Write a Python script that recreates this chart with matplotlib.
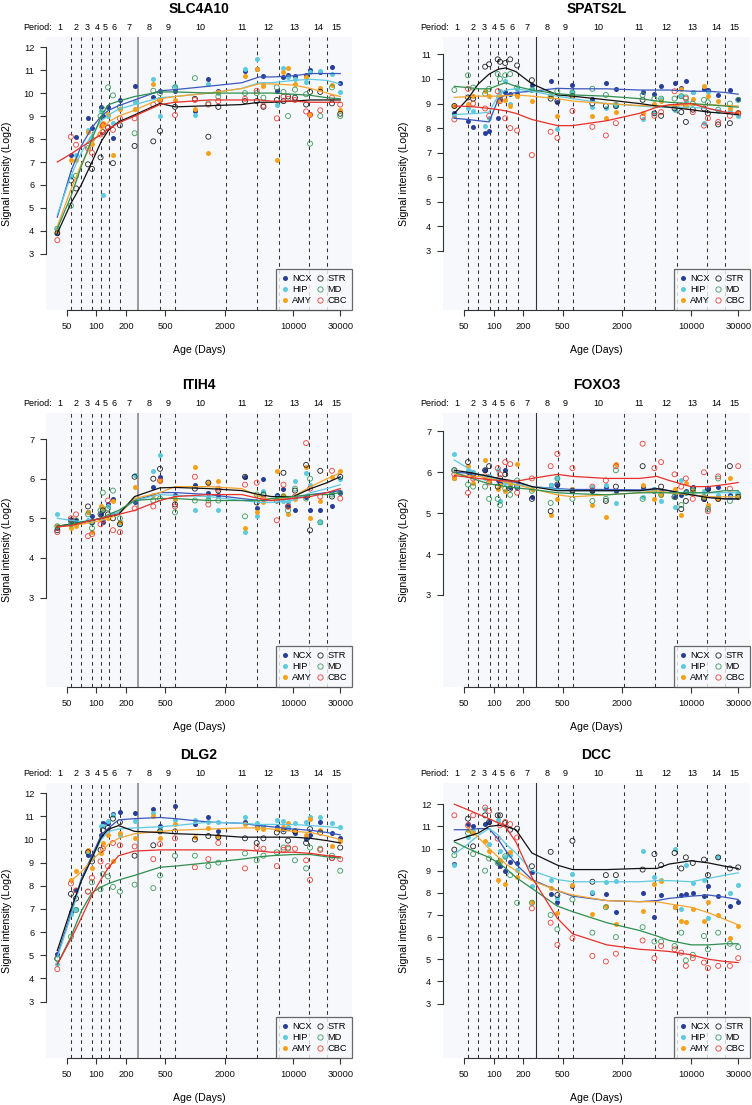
import numpy as np
import matplotlib
matplotlib.use("Agg")
import matplotlib.pyplot as plt
from matplotlib.lines import Line2D

plt.rcParams['font.family'] = ['Liberation Sans', 'DejaVu Sans']
nan = np.nan

# sample ages (days post conception) and ages at which the smooth fits are drawn
AGES = [40, 55, 62, 82, 90, 110, 116, 131, 147, 173, 244, 378, 442, 628, 1000, 1370, 1730,
        3230, 4250, 4970, 6800, 7950, 8850, 10400, 13500, 14800, 18800, 24700, 30000]
FIT_AGES = [40, 55, 70, 90, 112, 133, 168, 244, 442, 630, 1400, 3000, 4500, 6000, 10000,
            15000, 22000, 30000]

# period boundaries (days), birth and the period label anchors
PERIOD_BOUNDS = [55, 70, 91, 112, 133, 175, 446, 633, 2080, 4280, 7190, 14500, 21900]
BIRTH = 267
PERIOD_EDGES = [32, 55, 70, 91, 112, 133, 175, 267, 446, 633, 2080, 4280, 7190, 14500, 21900, 35000]
PERIODS = [str(i) for i in range(1, 16)]

XTICKS = [50, 100, 200, 500, 2000, 10000, 30000]
REGIONS = ['NCX', 'HIP', 'AMY', 'STR', 'MD', 'CBC']

# ---------------- SLC4A10 ----------------
SLC4A10_NCX = [3.9, 7.3, 8.1, 8.9, 8.5, 9.4, 9.0, 9.4, 8.05, 9.7, 10.3, 9.85, 10.1, 10.1, 9.2, 10.6, 10.1, 10.95, 11.05, 10.75, 10.1, 10.7, 10.8, 10.75, 10.8, 11.0, 10.9, 11.15, 10.45]
SLC4A10_HIP = [4.1, 6.4, 7.3, 8.4, 8.0, 9.2, 5.55, 9.0, 8.7, 9.3, 9.6, 10.6, 9.0, 10.3, 9.05, 10.4, 10.0, 11.05, 11.5, 10.4, 9.5, 11.1, 10.7, 10.6, 10.5, 10.9, 10.95, 10.85, 10.05]
SLC4A10_AMY = [4.0, 7.1, 7.1, 8.3, 7.8, 8.55, 8.7, 9.1, 7.3, 9.3, 9.3, 10.4, 9.7, 9.7, 9.3, 7.4, 10.05, 10.75, 11.05, 10.3, 7.1, 10.9, 11.1, 10.4, 10.7, 9.1, 10.2, 10.35, 9.25]
SLC4A10_STR = [3.9, 6.2, 5.85, 6.9, 6.7, 7.2, 8.3, 8.5, 6.95, 8.6, 7.7, 7.9, 8.35, 9.4, 9.75, 8.1, 9.4, 9.65, 9.65, 9.4, 9.7, 9.65, 9.85, 9.8, 9.5, 10.05, 10.05, 9.55, 9.1]
SLC4A10_MD = [4.1, 5.1, 6.4, 7.7, 8.0, 9.0, 9.3, 10.25, 9.9, 9.4, 8.25, 10.1, 10.0, 10.25, 10.65, 9.55, 9.85, 10.0, 10.0, 9.8, 10.25, 10.05, 9.0, 10.15, 9.95, 7.8, 9.0, 10.25, 9.0]
SLC4A10_CBC = [3.6, 8.1, 7.75, 7.6, 7.4, 8.2, 8.6, 8.5, 8.4, 8.9, 8.9, 9.5, 9.7, 9.05, 9.7, 9.5, 9.65, 9.75, 10.1, 9.45, 8.9, 9.85, 9.75, 9.7, 9.2, 9.05, 9.25, 9.8, 9.5]
SLC4A10_NCX_FIT = [4.6, 6.6, 7.7, 8.5, 9.0, 9.25, 9.45, 9.7, 10.1, 10.15, 10.3, 10.45, 10.7, 10.7, 10.75, 10.85, 10.85, 10.85]
SLC4A10_HIP_FIT = [4.7, 6.4, 7.4, 8.2, 8.8, 9.05, 9.3, 9.5, 9.8, 9.85, 10.0, 10.2, 10.45, 10.45, 10.55, 10.6, 10.55, 10.4]
SLC4A10_AMY_FIT = [4.2, 5.8, 6.9, 7.8, 8.4, 8.75, 9.0, 9.25, 9.75, 9.85, 10.0, 10.2, 10.4, 10.4, 10.35, 10.2, 10.0, 9.85]
SLC4A10_STR_FIT = [3.9, 5.2, 6.0, 7.0, 7.9, 8.4, 8.75, 9.05, 9.55, 9.4, 9.45, 9.5, 9.6, 9.6, 9.65, 9.7, 9.7, 9.7]
SLC4A10_MD_FIT = [4.1, 5.5, 6.8, 8.0, 9.0, 9.5, 9.65, 9.85, 10.05, 10.05, 10.0, 10.0, 10.0, 10.0, 9.95, 9.9, 9.8, 9.75]
SLC4A10_CBC_FIT = [7.0, 7.35, 7.65, 7.95, 8.2, 8.45, 8.7, 9.0, 9.5, 9.6, 9.7, 9.7, 9.7, 9.65, 9.65, 9.6, 9.6, 9.6]

# ---------------- SPATS2L ----------------
SPATS2L_NCX = [8.6, 8.3, 8.05, 7.8, 7.9, 8.4, 9.2, 9.45, 9.4, 9.4, 9.75, 9.9, 9.05, 9.75, 9.2, 9.85, 9.6, 9.45, 9.4, 9.7, 9.85, 9.65, 9.9, 9.45, 9.6, 9.55, 9.35, 9.55, 9.2]
SPATS2L_HIP = [8.5, 8.8, 8.7, 8.1, 8.4, 9.3, 9.5, 9.9, 9.0, 9.6, 9.6, 9.3, 7.95, 9.45, 8.85, 8.8, 8.9, 8.35, 8.6, 9.2, 8.75, 9.3, 9.1, 9.45, 8.2, 9.45, 8.7, 8.7, 8.5]
SPATS2L_AMY = [8.9, 9.0, 9.3, 9.5, 9.3, 9.1, 9.3, 9.15, 8.9, 9.3, 9.1, 9.3, 8.5, 9.3, 8.5, 8.4, 8.65, 8.6, 9.0, 9.1, 8.9, 9.6, 8.9, 9.2, 9.7, 9.3, 9.1, 8.8, 8.65]
SPATS2L_STR = [8.9, 9.25, 9.2, 10.5, 10.6, 10.8, 10.7, 10.65, 10.8, 10.55, 9.95, 9.2, 9.1, 9.3, 9.0, 8.9, 8.9, 9.15, 8.6, 8.5, 8.8, 8.65, 8.25, 8.75, 8.8, 8.6, 8.15, 8.2, 8.6]
SPATS2L_MD = [9.55, 10.15, 9.65, 9.4, 9.6, 10.2, 10.0, 10.15, 10.2, 9.65, 9.55, 9.3, 9.5, 9.45, 9.6, 9.35, 8.95, 9.35, 9.2, 9.2, 9.2, 9.3, 9.25, 9.0, 9.15, 9.05, 8.75, 9.0, 9.15]
SPATS2L_CBC = [8.35, 9.6, 9.0, 8.8, 8.5, 9.5, 9.1, 8.4, 8.0, 7.9, 6.9, 7.85, 7.6, 8.7, 8.05, 7.7, 8.2, 8.45, 8.5, 8.65, 9.5, 8.9, 9.2, 8.65, 8.1, 8.4, 8.25, 8.5, 8.6]
SPATS2L_NCX_FIT = [8.4, 8.35, 8.3, 8.25, 9.2, 9.35, 9.45, 9.5, 9.62, 9.6, 9.6, 9.55, 9.55, 9.55, 9.5, 9.5, 9.45, 9.38]
SPATS2L_HIP_FIT = [8.55, 8.58, 8.6, 8.65, 9.35, 9.55, 9.6, 9.5, 9.3, 9.2, 9.0, 8.9, 8.85, 8.85, 8.85, 8.8, 8.65, 8.5]
SPATS2L_AMY_FIT = [9.25, 9.28, 9.3, 9.3, 9.3, 9.32, 9.35, 9.3, 9.2, 9.1, 9.0, 8.92, 8.9, 8.92, 8.95, 8.95, 8.92, 8.9]
SPATS2L_STR_FIT = [8.6, 9.2, 9.8, 10.2, 10.4, 10.45, 10.3, 9.8, 9.35, 9.3, 9.15, 9.0, 8.9, 8.85, 8.75, 8.65, 8.6, 8.55]
SPATS2L_MD_FIT = [9.7, 9.65, 9.6, 9.6, 9.75, 9.85, 9.7, 9.55, 9.4, 9.35, 9.3, 9.2, 9.1, 9.05, 9.0, 8.95, 8.9, 8.85]
SPATS2L_CBC_FIT = [8.9, 8.88, 8.85, 8.8, 8.75, 8.7, 8.6, 8.35, 8.1, 8.1, 8.3, 8.6, 8.85, 8.95, 9.0, 8.8, 8.65, 8.6]

# ---------------- ITIH4 ----------------
ITIH4_NCX = [4.75, 4.95, 4.95, 5.15, 5.05, 5.1, 4.9, 5.35, 5.5, 4.9, 5.4, 5.8, 6.05, 5.6, 5.85, 5.65, 5.6, 6.05, 5.25, 6.0, 5.6, 5.75, 5.3, 5.2, 5.55, 5.2, 5.2, 5.3, 5.65]
ITIH4_HIP = [5.1, 4.85, 4.85, 4.95, 4.9, 5.0, 5.2, 5.3, 5.1, 4.85, 6.1, 6.2, 6.6, 5.5, 5.2, 5.55, 5.2, 4.65, 5.05, 5.7, 5.55, 5.45, 5.4, 5.95, 6.15, 5.85, 4.9, 5.65, 6.0]
ITIH4_AMY = [4.8, 4.75, 4.8, 5.15, 4.65, 5.3, 5.25, 5.0, 5.45, 4.9, 5.8, 5.6, 5.95, 5.5, 6.3, 5.9, 5.95, 4.75, 5.15, 5.4, 6.2, 5.6, 5.1, 5.5, 6.3, 5.0, 5.45, 6.05, 6.2]
ITIH4_STR = [4.7, 4.95, 4.9, 5.3, 4.9, 5.1, 5.2, 5.1, 5.0, 4.85, 6.05, 6.0, 6.25, 5.35, 5.75, 5.9, 5.7, 6.05, 5.4, 5.6, 5.45, 6.15, 5.3, 5.7, 6.35, 4.7, 6.2, 5.55, 6.05]
ITIH4_MD = [4.8, 4.85, 4.95, 5.1, 4.75, 5.2, 5.65, 5.25, 5.7, 5.0, 5.45, 5.45, 5.5, 5.15, 5.45, 5.45, 5.45, 5.05, 5.6, 5.6, 5.45, 5.55, 5.2, 5.75, 5.5, 6.0, 4.9, 5.6, 5.65]
ITIH4_CBC = [4.65, 5.0, 5.1, 4.55, 4.6, 4.85, 4.95, 5.45, 4.7, 4.65, 5.25, 5.3, 5.95, 5.3, 6.05, 5.35, 5.75, 5.85, 5.9, 5.5, 4.95, 5.85, 5.3, 5.55, 6.9, 5.75, 5.55, 6.2, 5.5]
ITIH4_NCX_FIT = [4.8, 4.85, 4.9, 4.95, 5.0, 5.05, 5.15, 5.45, 5.65, 5.65, 5.6, 5.5, 5.45, 5.45, 5.5, 5.6, 5.65, 5.7]
ITIH4_HIP_FIT = [5.0, 4.95, 4.92, 4.95, 5.0, 5.05, 5.15, 5.45, 5.6, 5.58, 5.55, 5.45, 5.4, 5.4, 5.45, 5.65, 5.75, 5.85]
ITIH4_AMY_FIT = [4.8, 4.82, 4.85, 4.9, 4.95, 5.0, 5.1, 5.5, 5.65, 5.8, 5.8, 5.75, 5.55, 5.45, 5.55, 5.8, 6.0, 6.15]
ITIH4_STR_FIT = [4.8, 4.85, 4.9, 4.95, 5.0, 5.05, 5.1, 5.55, 5.77, 5.78, 5.75, 5.7, 5.6, 5.55, 5.55, 5.75, 5.9, 6.05]
ITIH4_MD_FIT = [4.8, 4.85, 4.9, 4.95, 5.0, 5.1, 5.2, 5.45, 5.5, 5.5, 5.45, 5.45, 5.45, 5.5, 5.55, 5.6, 5.6, 5.65]
ITIH4_CBC_FIT = [4.78, 4.82, 4.88, 4.95, 5.0, 5.05, 5.1, 5.2, 5.45, 5.55, 5.6, 5.6, 5.5, 5.45, 5.5, 5.55, 5.65, 5.75]

# ---------------- FOXO3 ----------------
FOXO3_NCX = [5.85, 6.0, 5.95, 6.05, 5.9, 5.8, 5.75, 6.05, 5.65, 5.62, 5.4, 5.7, 5.7, 5.55, 5.55, 5.65, 5.55, 5.65, 5.6, 5.55, 5.4, 5.45, 5.55, 5.65, 5.35, 5.6, 5.65, 5.45, 5.45]
FOXO3_HIP = [6.45, 6.05, 6.0, 5.85, 5.9, 6.05, 5.3, 5.75, 5.7, 5.65, 5.6, 5.7, 5.85, 5.6, 5.65, 5.7, 5.25, 5.4, 5.6, 5.3, 5.15, 5.8, 5.5, 5.6, 5.55, 5.15, 5.45, 5.4, 5.5]
FOXO3_AMY = [5.85, 6.15, 5.75, 6.3, 5.8, 5.6, 5.7, 5.55, 5.75, 6.2, 5.6, 4.95, 5.35, 5.6, 5.2, 4.9, 6.2, 5.7, 5.35, 5.45, 5.6, 4.95, 5.75, 5.55, 5.4, 5.2, 5.35, 5.85, 5.4]
FOXO3_STR = [6.05, 6.25, 5.95, 6.05, 6.15, 5.65, 5.85, 5.95, 5.6, 5.65, 5.35, 5.05, 5.7, 5.55, 5.55, 5.3, 5.65, 6.15, 5.55, 5.65, 5.4, 5.1, 5.3, 5.6, 5.35, 5.6, 5.35, 6.15, 5.4]
FOXO3_MD = [6.05, 5.7, 5.65, 5.65, 5.35, 5.35, 5.2, 5.6, 5.45, 5.8, 5.55, 5.25, 5.85, 5.35, 5.3, 5.35, 6.05, 5.35, 5.55, 5.45, 5.4, 5.2, 5.5, 5.55, 5.4, 5.1, 5.85, 5.3, 5.45]
FOXO3_CBC = [5.95, 5.5, 5.85, 5.9, 5.75, 6.1, 5.95, 6.25, 6.2, 5.5, 5.85, 6.15, 6.45, 6.1, 5.65, 5.8, 6.15, 6.7, 6.1, 6.25, 5.95, 5.65, 5.85, 5.35, 6.0, 5.05, 5.9, 5.6, 6.15]
FOXO3_NCX_FIT = [6.0, 5.98, 5.95, 5.9, 5.85, 5.8, 5.75, 5.65, 5.6, 5.58, 5.58, 5.57, 5.6, 5.55, 5.45, 5.4, 5.35, 5.35]
FOXO3_HIP_FIT = [6.3, 6.1, 5.95, 5.88, 5.82, 5.75, 5.7, 5.65, 5.58, 5.55, 5.55, 5.55, 5.55, 5.5, 5.5, 5.5, 5.5, 5.5]
FOXO3_AMY_FIT = [5.95, 5.92, 5.9, 5.85, 5.8, 5.75, 5.7, 5.6, 5.45, 5.4, 5.45, 5.5, 5.55, 5.5, 5.45, 5.4, 5.4, 5.4]
FOXO3_STR_FIT = [6.05, 6.0, 5.95, 5.9, 5.85, 5.82, 5.78, 5.65, 5.55, 5.55, 5.55, 5.55, 5.6, 5.55, 5.45, 5.38, 5.35, 5.35]
FOXO3_MD_FIT = [6.0, 5.88, 5.8, 5.72, 5.68, 5.65, 5.62, 5.58, 5.5, 5.48, 5.45, 5.5, 5.5, 5.5, 5.5, 5.5, 5.55, 5.55]
FOXO3_CBC_FIT = [5.92, 5.88, 5.85, 5.82, 5.8, 5.79, 5.78, 5.85, 5.95, 5.9, 5.85, 5.85, 5.9, 5.8, 5.65, 5.65, 5.7, 5.75]

# ---------------- DLG2 ----------------
DLG2_NCX = [5.05, 6.85, 7.8, 9.35, 9.3, 10.2, 10.7, 10.7, 11.1, 11.2, 11.15, 11.3, 10.6, 11.45, 10.65, 10.95, 10.35, 10.75, 10.55, 10.6, 10.55, 10.45, 10.5, 10.3, 10.0, 10.2, 10.75, 10.3, 10.05]
DLG2_HIP = [4.6, 6.8, 7.0, 9.45, 9.2, 10.6, 10.6, 10.8, 11.05, 10.2, 10.8, 11.15, 10.45, 10.85, 10.85, 10.75, 10.75, 10.95, 10.7, 10.55, 10.85, 10.8, 10.55, 10.7, 10.75, 10.95, 10.95, 10.7, 10.55]
DLG2_AMY = [nan, 8.25, 8.65, 9.55, 8.75, 9.4, 9.85, 10.2, 9.05, 10.3, 10.05, 11.0, 10.05, 10.65, 10.1, 10.5, 10.15, 10.65, 10.5, 10.45, 10.45, 10.55, 10.7, 10.4, 10.2, 10.9, 10.4, 9.7, 9.95]
DLG2_STR = [4.85, 7.65, 7.45, 9.45, 9.05, 9.55, 10.4, 10.5, 10.9, 10.75, 9.3, 9.75, 10.35, 10.35, 10.0, 10.15, 10.1, 10.05, 9.85, 10.05, 10.3, 10.35, 9.95, 10.35, 9.85, 10.45, 10.3, 9.2, 9.65]
DLG2_MD = [4.85, 5.8, 6.95, 7.75, 8.15, 7.85, 8.5, 8.4, 7.95, 7.75, 8.05, 7.9, 8.45, 9.3, 9.3, 8.85, 9.0, 9.4, 9.1, 9.3, 9.45, 9.65, 9.6, 9.1, 8.75, 9.65, 9.6, 9.3, 8.65]
DLG2_CBC = [4.4, 8.1, 7.8, 7.75, 8.35, 9.05, 9.6, 8.85, 9.85, 9.75, 9.7, 9.15, 9.8, 10.05, 8.8, 9.15, 9.85, 8.75, 9.65, 9.6, 8.85, 9.55, 9.65, 9.6, 9.1, 8.25, 9.55, 9.2, 9.15]
DLG2_NCX_FIT = [5.0, 6.8, 8.3, 9.3, 10.2, 10.5, 10.85, 10.9, 10.95, 10.9, 10.75, 10.7, 10.6, 10.55, 10.45, 10.4, 10.3, 10.2]
DLG2_HIP_FIT = [4.9, 6.7, 8.2, 9.2, 10.0, 10.35, 10.45, 10.5, 10.55, 10.6, 10.75, 10.7, 10.65, 10.65, 10.65, 10.6, 10.55, 10.5]
DLG2_AMY_FIT = [nan, 8.2, 8.6, 9.1, 9.5, 9.8, 10.05, 10.25, 10.35, 10.4, 10.45, 10.5, 10.5, 10.45, 10.35, 10.3, 10.15, 10.0]
DLG2_STR_FIT = [5.2, 7.0, 8.2, 9.2, 10.1, 10.45, 10.6, 10.35, 10.3, 10.25, 10.2, 10.1, 10.1, 10.1, 10.1, 10.05, 9.95, 9.85]
DLG2_MD_FIT = [4.6, 5.8, 6.9, 7.7, 7.95, 8.1, 8.25, 8.45, 8.8, 8.85, 9.0, 9.15, 9.25, 9.3, 9.35, 9.35, 9.25, 9.2]
DLG2_CBC_FIT = [4.6, 5.7, 6.6, 7.6, 8.3, 8.8, 9.3, 9.5, 9.55, 9.55, 9.55, 9.55, 9.5, 9.45, 9.45, 9.4, 9.3, 9.25]

# ---------------- DCC ----------------
DCC_NCX = [9.3, 11.1, 11.0, 11.1, 11.2, 9.4, 9.2, 9.0, 9.4, 9.35, 8.95, 7.95, 7.6, 8.3, 8.0, 7.95, 7.15, 8.0, 6.9, 7.9, 7.35, 7.9, 7.95, 8.0, 7.85, 8.3, 7.85, 7.4, 7.6]
DCC_HIP = [9.25, 10.5, 10.8, 11.8, 10.2, 11.3, 9.9, 9.6, 9.7, 9.05, 8.3, 8.6, 7.75, 8.85, 8.05, 8.5, 8.55, 9.9, 8.7, 8.6, 10.0, 7.25, 9.25, 8.45, 8.6, 6.85, 9.6, 8.0, 8.35]
DCC_AMY = [nan, 10.85, 10.7, 10.35, 9.9, 8.6, 9.5, 8.4, 9.85, 8.7, 7.6, 8.2, 7.1, 8.35, 7.05, 7.4, 6.6, 7.2, 8.4, 8.55, 7.35, 6.75, 6.7, 7.25, 6.75, 7.6, 7.0, 5.95, 6.5]
DCC_STR = [9.95, 11.35, 10.1, 11.5, 11.2, 11.5, 11.5, 11.15, 10.85, 10.9, 9.2, 9.85, 7.9, 10.35, 8.5, 8.8, 8.8, 9.05, 9.75, 9.25, 9.8, 9.1, 9.6, 9.35, 9.5, 8.8, 9.6, 9.1, 9.15]
DCC_MD = [9.7, 10.7, 9.75, 9.0, 9.55, 9.35, 9.4, 9.65, 8.8, 7.55, 7.55, 7.0, 6.35, 7.7, 6.2, 7.35, 6.0, 6.45, 5.8, 5.8, 5.6, 6.2, 4.95, 5.2, 6.05, 5.45, 6.2, 5.7, 5.55]
DCC_CBC = [11.5, 11.05, 11.5, 11.85, 11.7, 10.45, 11.05, 11.2, 11.1, 10.5, 7.3, 6.65, 5.65, 5.95, 5.15, 4.9, 5.25, 5.85, 5.05, 5.6, 5.45, 5.3, 4.7, 5.05, 4.85, 4.6, 4.7, 4.7, 5.05]
DCC_NCX_FIT = [10.85, 10.85, 10.9, 10.9, 10.4, 9.9, 9.3, 8.6, 8.1, 7.85, 7.65, 7.6, 7.65, 7.75, 7.85, 7.9, 7.8, 7.7]
DCC_HIP_FIT = [9.75, 10.2, 10.6, 10.9, 10.6, 10.2, 9.8, 9.0, 8.6, 8.5, 8.5, 8.5, 8.55, 8.55, 8.5, 8.65, 8.8, 8.9]
DCC_AMY_FIT = [nan, 10.95, 10.5, 10.0, 9.6, 9.3, 9.0, 8.55, 8.1, 7.9, 7.65, 7.6, 7.6, 7.5, 7.35, 7.1, 6.8, 6.55]
DCC_STR_FIT = [10.35, 10.55, 10.7, 11.0, 11.05, 11.0, 10.85, 9.8, 9.25, 9.05, 9.05, 9.1, 9.1, 9.3, 9.45, 9.35, 9.2, 9.1]
DCC_MD_FIT = [10.3, 10.0, 9.8, 9.6, 9.35, 9.1, 8.7, 8.2, 7.4, 7.15, 6.65, 6.3, 6.05, 5.85, 5.65, 5.65, 5.7, 5.7]
DCC_CBC_FIT = [12.0, 11.75, 11.55, 11.35, 11.15, 10.95, 10.3, 8.7, 6.85, 6.15, 5.65, 5.45, 5.4, 5.35, 5.2, 5.0, 4.9, 4.85]

# styles
PT_COL = {'NCX': '#283f99', 'HIP': '#5ccadf', 'AMY': '#f7a11b',
          'STR': '#222222', 'MD': '#3b9a5c', 'CBC': '#ee4036'}
LN_COL = {'NCX': '#3a58bd', 'HIP': '#5fcae2', 'AMY': '#f6a52a',
          'STR': '#111111', 'MD': '#2f8f4f', 'CBC': '#e8302a'}
FILLED = {'NCX', 'HIP', 'AMY'}
BG = '#f7f8fb'

panels = [
    ('SLC4A10', [SLC4A10_NCX, SLC4A10_HIP, SLC4A10_AMY, SLC4A10_STR, SLC4A10_MD, SLC4A10_CBC],
     [SLC4A10_NCX_FIT, SLC4A10_HIP_FIT, SLC4A10_AMY_FIT, SLC4A10_STR_FIT, SLC4A10_MD_FIT, SLC4A10_CBC_FIT],
     (0.56, 12.44), range(3, 13)),
    ('SPATS2L', [SPATS2L_NCX, SPATS2L_HIP, SPATS2L_AMY, SPATS2L_STR, SPATS2L_MD, SPATS2L_CBC],
     [SPATS2L_NCX_FIT, SPATS2L_HIP_FIT, SPATS2L_AMY_FIT, SPATS2L_STR_FIT, SPATS2L_MD_FIT, SPATS2L_CBC_FIT],
     (0.59, 11.71), range(3, 12)),
    ('ITIH4', [ITIH4_NCX, ITIH4_HIP, ITIH4_AMY, ITIH4_STR, ITIH4_MD, ITIH4_CBC],
     [ITIH4_NCX_FIT, ITIH4_HIP_FIT, ITIH4_AMY_FIT, ITIH4_STR_FIT, ITIH4_MD_FIT, ITIH4_CBC_FIT],
     (0.74, 7.66), range(3, 8)),
    ('FOXO3', [FOXO3_NCX, FOXO3_HIP, FOXO3_AMY, FOXO3_STR, FOXO3_MD, FOXO3_CBC],
     [FOXO3_NCX_FIT, FOXO3_HIP_FIT, FOXO3_AMY_FIT, FOXO3_STR_FIT, FOXO3_MD_FIT, FOXO3_CBC_FIT],
     (0.75, 7.45), range(3, 8)),
    ('DLG2', [DLG2_NCX, DLG2_HIP, DLG2_AMY, DLG2_STR, DLG2_MD, DLG2_CBC],
     [DLG2_NCX_FIT, DLG2_HIP_FIT, DLG2_AMY_FIT, DLG2_STR_FIT, DLG2_MD_FIT, DLG2_CBC_FIT],
     (0.56, 12.44), range(3, 13)),
    ('DCC', [DCC_NCX, DCC_HIP, DCC_AMY, DCC_STR, DCC_MD, DCC_CBC],
     [DCC_NCX_FIT, DCC_HIP_FIT, DCC_AMY_FIT, DCC_STR_FIT, DCC_MD_FIT, DCC_CBC_FIT],
     (0.54, 12.96), range(3, 13)),
]

W, H = 752, 1105
fig = plt.figure(figsize=(W / 100, H / 100), dpi=100)

col_x = [(46, 352), (443, 750)]
row_y = [(37, 310), (413, 687), (783, 1058)]

# period label positions: log-midpoints of period edges
edges = np.log10(PERIOD_EDGES)
label_pos = 10 ** ((edges[:-1] + edges[1:]) / 2)

for i, (gene, pts, fits, ylim, yticks) in enumerate(panels):
    r, c = divmod(i, 2)
    x0, x1 = col_x[c]
    y0, y1 = row_y[r]
    ax = fig.add_axes([x0 / W, 1 - y1 / H, (x1 - x0) / W, (y1 - y0) / H])
    ax.set_facecolor(BG)
    ax.set_xscale('log')
    ax.set_xlim(30.7, 39500)
    ax.set_ylim(*ylim)

    for b in PERIOD_BOUNDS:
        ax.axvline(b, color='#333333', lw=0.75, ls=(0, (3.5, 3.5)), zorder=1)
    if c == 0:
        ax.axvline(BIRTH, color='#9a9a9a', lw=1.4, zorder=1)
    else:
        ax.axvline(BIRTH, color='#333333', lw=0.8, zorder=1)

    for reg, vals in zip(REGIONS, pts):
        if reg in FILLED:
            ax.scatter(AGES, vals, s=13, color=PT_COL[reg], lw=0, zorder=3)
        else:
            ax.scatter(AGES, vals, s=13, facecolors='none', edgecolors=PT_COL[reg],
                       lw=0.6, zorder=3)
    for reg, fv in zip(REGIONS, fits):
        ax.plot(FIT_AGES, fv, color=LN_COL[reg], lw=0.9, zorder=4)

    # axes styling (R-like)
    for s in ['top', 'right']:
        ax.spines[s].set_visible(False)
    ax.spines['left'].set_bounds(yticks[0], yticks[-1])
    ax.spines['bottom'].set_bounds(XTICKS[0], XTICKS[-1])
    for s in ['left', 'bottom']:
        ax.spines[s].set_color('#333333')
        ax.spines[s].set_linewidth(0.8)
    ax.set_xticks(XTICKS)
    ax.set_xticklabels([str(t) for t in XTICKS])
    ax.xaxis.set_minor_locator(matplotlib.ticker.NullLocator())
    ax.set_yticks(list(yticks))
    ax.tick_params(axis='both', which='major', length=4, width=0.8, color='#333333',
                   labelsize=6.7, pad=4.5, labelcolor='#111111')

    h = y1 - y0
    wd = x1 - x0
    ax.text(0.5, 1 + 28 / h, gene, transform=ax.transAxes, ha='center', va='center',
            fontsize=10, fontweight='bold')
    ax.text(0.018, 1 + 9 / h, 'Period:', transform=ax.transAxes, ha='right', va='center',
            fontsize=6.5)
    for lab, xp in zip(PERIODS, label_pos):
        ax.text(xp, 1 + 9 / h, lab, transform=ax.get_xaxis_transform(), ha='center',
                va='center', fontsize=6.5)
    ax.text(0.5, -40 / h, 'Age (Days)', transform=ax.transAxes, ha='center', va='center',
            fontsize=7.6)
    ax.text(-39 / wd, 0.5, 'Signal intensity (Log2)', transform=ax.transAxes, rotation=90,
            ha='center', va='center', fontsize=7.6)

    handles = []
    for reg in REGIONS:
        if reg in FILLED:
            handles.append(Line2D([], [], ls='none', marker='o', ms=3.6, mfc=PT_COL[reg],
                                  mec=PT_COL[reg], mew=0))
        else:
            handles.append(Line2D([], [], ls='none', marker='o', ms=3.8, mfc='none',
                                  mec=PT_COL[reg], mew=0.6))
    leg = ax.legend(handles, REGIONS, ncol=2, loc='lower right', borderaxespad=0,
                    fontsize=6.7, frameon=True, fancybox=False, handlelength=0.8,
                    handletextpad=0.35, columnspacing=0.5, labelspacing=0.22,
                    borderpad=0.55)
    leg.get_frame().set_edgecolor('#444444')
    leg.get_frame().set_linewidth(0.9)
    leg.get_frame().set_facecolor(BG)
    leg.set_zorder(6)

fig.savefig('out.png', dpi=100, facecolor='white')
